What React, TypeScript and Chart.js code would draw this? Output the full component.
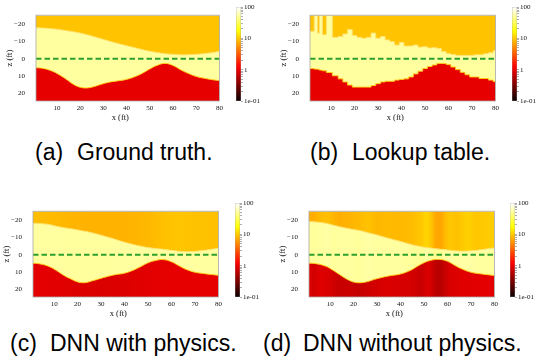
import React, { useEffect, useRef } from 'react';
import { Chart, registerables } from 'chart.js';
Chart.register(...registerables);

// ---------------- data ----------------
const X_RANGE = [1, 80];
const Z_RANGE = [-25.4, 24.6];
const X_TICKS = [10, 20, 30, 40, 50, 60, 70, 80];
const Z_TICKS = [-20, -10, 0, 10, 20];
const CBAR_RANGE = [0.1, 100];
const CBAR_MAJOR = [0.1, 1, 10, 100];
const CBAR_LABELS = ['1e-01', '1', '10', '100'];
const WATER_X = [1, 80];
const WATER_Z = 0;

// smooth interfaces (x in ft, z in ft)
const SMOOTH_X = [0, 4, 8, 11, 14, 17, 20, 23, 26, 29, 32, 36, 40, 44, 47, 50, 53, 56.5, 60, 63, 66, 70, 74, 77, 81];
const GT_UPPER = [-18.1, -17.9, -17.5, -17.0, -16.4, -15.8, -15.0, -14.0, -12.9, -11.7, -10.5, -9.0, -7.6, -6.3, -5.3, -4.4, -3.7, -3.0, -2.6, -2.3, -2.3, -2.6, -3.1, -3.6, -4.5];
const GT_LOWER = [5.1, 5.6, 7.2, 9.3, 11.9, 14.8, 16.6, 17.0, 16.2, 14.9, 13.8, 12.9, 12.0, 10.2, 8.3, 5.9, 3.9, 2.7, 3.9, 6.2, 8.2, 10.3, 11.5, 12.2, 12.9];
const PH_UPPER = [-18.5, -18.2, -17.6, -16.6, -15.8, -15.2, -14.5, -13.7, -12.9, -11.8, -10.6, -9.0, -7.3, -5.9, -5.0, -4.2, -3.7, -3.2, -2.6, -2.1, -1.8, -2.0, -2.6, -3.2, -4.1];
const PH_LOWER = [4.9, 5.3, 6.9, 9.2, 11.9, 14.0, 15.8, 16.3, 15.3, 14.1, 12.9, 11.6, 10.7, 8.8, 6.8, 4.7, 3.4, 2.8, 4.1, 6.3, 8.4, 10.2, 11.0, 11.5, 12.1];
const NP_UPPER = [-19.4, -19.1, -18.4, -17.4, -16.4, -15.5, -14.7, -14.0, -12.9, -11.9, -10.7, -9.2, -7.8, -6.2, -5.2, -4.4, -3.9, -3.3, -2.8, -2.3, -2.1, -2.3, -2.9, -3.5, -4.3];
const NP_LOWER = [4.9, 5.2, 6.6, 8.8, 11.5, 14.1, 15.9, 16.3, 15.6, 14.3, 13.2, 12.1, 11.2, 9.2, 6.8, 4.6, 3.2, 2.7, 3.8, 6.1, 8.2, 10.2, 11.1, 11.6, 12.2];

// lookup table: column start x and stepped interfaces
const LUT_X = [1, 2.8, 4.2, 5, 6.3, 8, 10.5, 13, 15, 17, 19, 21, 23, 25, 27, 29, 31, 33, 35, 37, 39, 41, 43, 45, 47, 49, 51, 53, 55, 57, 59, 61, 63, 65, 67, 69, 71, 73, 75, 77, 79, 81];
const LUT_UPPER = [-16, -25.5, -15, -25.5, -14, -25.5, -12.5, -13, -14.5, -17, -13.5, -12.5, -12, -12.5, -15, -12, -13, -11, -10, -8, -9.5, -7.4, -7.5, -8, -6.8, -7, -6.3, -6.5, -6, -4.2, -3, -2.5, -2, -2, -2, -2, -2.3, -2.3, -3, -3.5, -4.7, -4.7];
const LUT_LOWER = [5.7, 6.0, 6.1, 6.6, 7.0, 8.0, 9.9, 11.7, 13.5, 15.3, 16.5, 16.5, 16.5, 16.5, 15.6, 14.5, 13.5, 13.1, 13.1, 12.4, 12.0, 11.7, 10.6, 8.8, 7.2, 5.7, 4.5, 3.6, 2.7, 2.7, 3.4, 4.8, 6.3, 7.9, 9.3, 10.6, 10.6, 11.5, 11.5, 12.4, 13.3, 13.3];

// layer resistivity (ohm-m) along x
const FLAT_RHO_X = [0, 81];
const FLAT_RHO_TOP = [9.3, 9.3];
const FLAT_RHO_MID = [52, 52];
const FLAT_RHO_BOT = [0.96, 0.96];
const PH_RHO_X = [0, 10, 20, 30, 40, 50, 56, 62, 70, 81];
const PH_RHO_TOP = [8.8, 8.5, 8.0, 7.8, 7.9, 8.3, 9.0, 9.6, 9.2, 9.0];
const PH_RHO_MID = [52, 52, 51, 51, 52, 52, 52, 53, 52, 52];
const PH_RHO_BOT = [0.95, 0.93, 0.88, 0.86, 0.88, 0.92, 0.95, 0.96, 0.96, 0.96];
const NP_RHO_X = [0, 3, 6, 9, 12, 14, 18, 22, 26, 30, 35, 40, 45, 49, 51, 53, 55, 57, 59, 61, 64, 67, 69, 72, 76, 81];
const NP_RHO_TOP = [7.6, 7.4, 8.6, 9.0, 8.0, 7.5, 8.0, 8.4, 9.2, 8.2, 8.6, 8.4, 8.8, 9.8, 11.5, 9.5, 7.0, 6.8, 8.5, 9.8, 9.0, 10.2, 10.8, 9.6, 10.0, 10.4];
const NP_RHO_MID = [52, 50, 52, 54, 50, 52, 52, 50, 54, 52, 52, 52, 50, 48, 54, 50, 46, 48, 52, 54, 52, 54, 54, 52, 52, 52];
const NP_RHO_BOT = [0.9, 0.78, 0.9, 0.85, 0.75, 0.7, 0.72, 0.68, 0.75, 0.8, 0.85, 0.82, 0.8, 0.7, 0.85, 0.8, 0.62, 0.6, 0.7, 0.85, 0.88, 0.92, 0.9, 0.93, 0.95, 0.95];

// ---------------- styling / layout ----------------
const Y_AXIS_W = 36;
const X_AXIS_H = 24;
const PAD_TOP = 7;
const PAD_RIGHT = 2;
const CB_W = 5;
const CB_AXIS_W = 35;
const TICK_FONT = { family: 'Liberation Serif', size: 7 };
const LABEL_FONT = { family: 'Liberation Serif', size: 8.5 };
const TEXT = '#111';

function hot(t: number) {
  t = Math.max(0, Math.min(1, t));
  const r = Math.min(1, 0.0416 + (t / 0.365079) * (1 - 0.0416));
  const g = Math.max(0, Math.min(1, (t - 0.365079) / (0.746032 - 0.365079)));
  const b = Math.max(0, Math.min(1, (t - 0.746032) / (1 - 0.746032)));
  return `rgb(${Math.round(r * 255)},${Math.round(g * 255)},${Math.round(b * 255)})`;
}
function rhoColor(rho: number) {
  const lo = Math.log10(CBAR_RANGE[0]);
  const hi = Math.log10(CBAR_RANGE[1]);
  return hot((Math.log10(rho) - lo) / (hi - lo));
}
function hGradient(chart: any, xs: number[], rhos: number[]) {
  const { ctx, chartArea, scales } = chart;
  if (!chartArea || !scales || !scales.x) return rhoColor(rhos[0]);
  const l = chartArea.left;
  const r = chartArea.right;
  const g = ctx.createLinearGradient(l, 0, r, 0);
  xs.forEach((x, i) => {
    const p = scales.x.getPixelForValue(x);
    const off = Math.min(1, Math.max(0, (p - l) / (r - l)));
    g.addColorStop(off, rhoColor(rhos[i]));
  });
  return g;
}

const framePlugin = {
  id: 'frame',
  afterDatasetsDraw(chart: any) {
    const { ctx, chartArea: a } = chart;
    ctx.save();
    ctx.strokeStyle = '#a8a8a8';
    ctx.lineWidth = 0.8;
    ctx.strokeRect(a.left, a.top, a.right - a.left, a.bottom - a.top);
    ctx.restore();
  },
};

type Panel = {
  left: number; top: number; right: number; bottom: number; cbLeft: number;
  xs: number[]; upper: number[]; lower: number[];
  rhoX: number[]; rhoTop: number[]; rhoMid: number[]; rhoBot: number[];
  stepped: boolean;
};

function HeatChart({ p }: { p: Panel }) {
  const ref = useRef<HTMLCanvasElement>(null);
  const W = p.right - p.left + Y_AXIS_W + PAD_RIGHT;
  const H = p.bottom - p.top + PAD_TOP + X_AXIS_H;
  useEffect(() => {
    const grad = (rhos: number[]) => (c: any) => hGradient(c.chart, p.rhoX, rhos);
    const pts = (ys: number[]) => p.xs.map((x, i) => ({ x, y: ys[i] }));
    const common = { pointRadius: 0, tension: p.stepped ? 0 : 0.4, stepped: p.stepped ? true : false };
    const chart = new Chart(ref.current as HTMLCanvasElement, {
      type: 'line',
      data: {
        datasets: [
          { ...common, data: pts(p.lower), fill: 'start', backgroundColor: grad(p.rhoBot), borderColor: 'rgba(255,205,20,0.95)', borderWidth: 1, order: 3 },
          { ...common, data: pts(p.upper), fill: 'end', backgroundColor: grad(p.rhoTop), borderColor: 'rgba(255,226,110,0.95)', borderWidth: 1, order: 2 },
          { ...common, data: pts(p.upper), fill: 0, backgroundColor: grad(p.rhoMid), borderColor: 'rgba(0,0,0,0)', borderWidth: 0, order: 4 },
          { pointRadius: 0, data: WATER_X.map((x) => ({ x, y: WATER_Z })), fill: false, borderColor: '#2ca02c', borderWidth: 2, borderDash: [5.5, 3], order: 0 },
        ],
      } as any,
      options: {
        responsive: false,
        animation: false,
        events: [],
        layout: { padding: { top: PAD_TOP, right: PAD_RIGHT, left: 0, bottom: 0 } },
        plugins: { legend: { display: false }, tooltip: { enabled: false } },
        scales: {
          x: {
            type: 'linear', min: X_RANGE[0], max: X_RANGE[1],
            afterBuildTicks: (s: any) => { s.ticks = X_TICKS.map((v) => ({ value: v })); },
            afterFit: (s: any) => { s.height = X_AXIS_H; },
            ticks: { font: TICK_FONT, color: TEXT, padding: 3, maxRotation: 0, autoSkip: false },
            grid: { drawOnChartArea: false, drawTicks: false, color: 'rgba(0,0,0,0)' },
            border: { display: false },
            title: { display: true, text: 'x (ft)       ', font: LABEL_FONT, color: TEXT, padding: { top: 0, bottom: 2.5 } },
          },
          y: {
            type: 'linear', reverse: true, min: Z_RANGE[0], max: Z_RANGE[1],
            afterBuildTicks: (s: any) => { s.ticks = Z_TICKS.map((v) => ({ value: v })); },
            afterFit: (s: any) => { s.width = Y_AXIS_W; },
            ticks: { font: TICK_FONT, color: TEXT, padding: 11, autoSkip: false, callback: (v: any) => (v < 0 ? '\u2212' + Math.abs(v) : String(v)) },
            grid: { drawOnChartArea: false, drawTicks: false, color: 'rgba(0,0,0,0)' },
            border: { display: false },
            title: { display: true, text: 'z (ft)', font: LABEL_FONT, color: TEXT, padding: { top: 5, bottom: 0 } },
          },
        },
      } as any,
      plugins: [framePlugin],
    });
    return () => chart.destroy();
  }, []);
  return (
    <canvas ref={ref} width={W} height={H}
      style={{ position: 'absolute', left: p.left - Y_AXIS_W, top: p.top - PAD_TOP, width: W, height: H }} />
  );
}

function ColorBar({ p }: { p: Panel }) {
  const ref = useRef<HTMLCanvasElement>(null);
  const W = CB_W + CB_AXIS_W;
  const padBottom = 10;
  const H = p.bottom - p.top + PAD_TOP + padBottom;
  useEffect(() => {
    const minorAndMajor: number[] = [];
    CBAR_MAJOR.forEach((m, i) => {
      minorAndMajor.push(m);
      if (i < CBAR_MAJOR.length - 1) for (let k = 2; k <= 9; k++) minorAndMajor.push(+(m * k).toPrecision(3));
    });
    const chart = new Chart(ref.current as HTMLCanvasElement, {
      type: 'bar',
      data: {
        labels: [''],
        datasets: [{
          data: [CBAR_RANGE],
          backgroundColor: (c: any) => {
            const { ctx, chartArea: a } = c.chart;
            if (!a) return '#f00';
            const g = ctx.createLinearGradient(0, a.bottom, 0, a.top);
            for (let i = 0; i <= 24; i++) g.addColorStop(i / 24, hot(i / 24));
            return g;
          },
          borderColor: '#9a9a9a', borderWidth: 0.6, borderSkipped: false,
          barPercentage: 1, categoryPercentage: 1,
        }],
      } as any,
      options: {
        responsive: false,
        animation: false,
        events: [],
        layout: { padding: { top: PAD_TOP, bottom: padBottom, left: 0, right: 0 } },
        plugins: { legend: { display: false }, tooltip: { enabled: false } },
        scales: {
          x: { display: false },
          y: {
            type: 'logarithmic', position: 'right', min: CBAR_RANGE[0], max: CBAR_RANGE[1],
            afterBuildTicks: (s: any) => { s.ticks = minorAndMajor.map((v) => ({ value: v })); },
            afterFit: (s: any) => { s.width = CB_AXIS_W; },
            ticks: {
              font: TICK_FONT, color: TEXT, padding: 1, autoSkip: false,
              callback: (v: any) => { const i = CBAR_MAJOR.indexOf(v); return i >= 0 ? CBAR_LABELS[i] : ''; },
            },
            grid: { drawOnChartArea: false, drawTicks: true, tickLength: 2, color: '#777', lineWidth: 0.6 },
            border: { display: false },
          },
        },
      } as any,
    });
    return () => chart.destroy();
  }, []);
  return (
    <canvas ref={ref} width={W} height={H}
      style={{ position: 'absolute', left: p.cbLeft, top: p.top - PAD_TOP, width: W, height: H }} />
  );
}

const PANELS: Panel[] = [
  { left: 36, top: 7, right: 224, bottom: 101, cbLeft: 236, xs: SMOOTH_X, upper: GT_UPPER, lower: GT_LOWER, rhoX: FLAT_RHO_X, rhoTop: FLAT_RHO_TOP, rhoMid: FLAT_RHO_MID, rhoBot: FLAT_RHO_BOT, stepped: false },
  { left: 310, top: 7, right: 500, bottom: 101, cbLeft: 512, xs: LUT_X, upper: LUT_UPPER, lower: LUT_LOWER, rhoX: FLAT_RHO_X, rhoTop: FLAT_RHO_TOP, rhoMid: FLAT_RHO_MID, rhoBot: FLAT_RHO_BOT, stepped: true },
  { left: 33, top: 203, right: 223, bottom: 297, cbLeft: 235, xs: SMOOTH_X, upper: PH_UPPER, lower: PH_LOWER, rhoX: PH_RHO_X, rhoTop: PH_RHO_TOP, rhoMid: PH_RHO_MID, rhoBot: PH_RHO_BOT, stepped: false },
  { left: 309, top: 203, right: 499, bottom: 297, cbLeft: 510, xs: SMOOTH_X, upper: NP_UPPER, lower: NP_LOWER, rhoX: NP_RHO_X, rhoTop: NP_RHO_TOP, rhoMid: NP_RHO_MID, rhoBot: NP_RHO_BOT, stepped: false },
];

const CAPTIONS = [
  { tag: '(a)', text: 'Ground truth.', tagLeft: 35, textLeft: 77, top: 141 },
  { tag: '(b)', text: 'Lookup table.', tagLeft: 310, textLeft: 352, top: 141 },
  { tag: '(c)', text: 'DNN with physics.', tagLeft: 10, textLeft: 50, top: 332 },
  { tag: '(d)', text: 'DNN without physics.', tagLeft: 263, textLeft: 303, top: 332 },
];

const capStyle = (left: number, top: number): React.CSSProperties => ({
  position: 'absolute', left, top, fontFamily: '"Liberation Sans", Arial, sans-serif',
  fontSize: 23, lineHeight: '23px', whiteSpace: 'nowrap', color: '#000',
});

export default function App() {
  return (
    <div style={{ position: 'absolute', left: 0, top: 0, width: 536, height: 362, background: '#fff', overflow: 'hidden' }}>
      {PANELS.map((p, i) => (
        <React.Fragment key={i}>
          <HeatChart p={p} />
          <ColorBar p={p} />
        </React.Fragment>
      ))}
      {CAPTIONS.map((c, i) => (
        <React.Fragment key={'c' + i}>
          <div style={capStyle(c.tagLeft, c.top)}>{c.tag}</div>
          <div style={capStyle(c.textLeft, c.top)}>{c.text}</div>
        </React.Fragment>
      ))}
    </div>
  );
}
